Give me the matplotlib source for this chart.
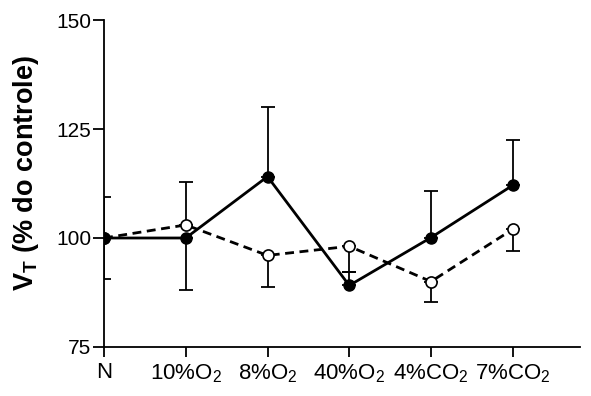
import matplotlib
matplotlib.use("Agg")
import matplotlib.pyplot as plt
import numpy as np

plt.rcParams['font.family'] = ['Liberation Sans', 'DejaVu Sans']
plt.rcParams['mathtext.fontset'] = 'custom'
plt.rcParams['mathtext.rm'] = 'Liberation Sans'
plt.rcParams['mathtext.it'] = 'Liberation Sans:italic'
plt.rcParams['mathtext.bf'] = 'Liberation Sans:bold'

categories = ["N", "10%O$_2$", "8%O$_2$", "40%O$_2$", "4%CO$_2$", "7%CO$_2$"]
filled_vals = [100, 100, 114.1, 89.1, 100.1, 112.1]
filled_err_up = [9.3, 0, 16.0, 3.0, 10.6, 10.3]
filled_err_dn = [9.3, 12.0, 0, 0, 0, 0]
open_vals = [100, 103, 96, 98.1, 90.0, 102.0]
open_err_up = [0, 9.8, 0, 0, 0, 0]
open_err_dn = [0, 0, 7.3, 6.0, 4.8, 4.9]
yticks = [75, 100, 125, 150]

fig = plt.figure(figsize=(5.91, 3.96), dpi=100)
ax = fig.add_axes([0.176, 0.124, 0.805, 0.825])
x = np.arange(len(categories))

ax.errorbar(x, open_vals, yerr=[open_err_dn, open_err_up], fmt='none',
            ecolor='black', elinewidth=1.3, capsize=5, capthick=1.3, zorder=2)
ax.errorbar(x, filled_vals, yerr=[filled_err_dn, filled_err_up], fmt='none',
            ecolor='black', elinewidth=1.3, capsize=5, capthick=1.3, zorder=2)
ax.plot(x, open_vals, linestyle=(0, (3.2, 2)), color='black', lw=2,
        marker='o', markersize=8, markerfacecolor='white',
        markeredgecolor='black', markeredgewidth=1.2, zorder=3)
ax.plot(x, filled_vals, linestyle='-', color='black', lw=2,
        marker='o', markersize=8, markerfacecolor='black',
        markeredgecolor='black', zorder=4)

ax.set_xlim(0, 5.82)
ax.set_ylim(75, 150)
ax.set_yticks(yticks)
ax.set_xticks(x)
ax.set_xticklabels(categories, fontsize=16)
ax.tick_params(axis='y', labelsize=15, length=8, width=1.3, direction='out', pad=1)
ax.tick_params(axis='x', length=7, width=1.3, direction='out', pad=4)
for s in ['top', 'right']:
    ax.spines[s].set_visible(False)
for s in ['left', 'bottom']:
    ax.spines[s].set_linewidth(1.3)
ax.set_ylabel("V$_\\mathbf{T}$ (% do controle)", fontsize=19.5, fontweight='bold')
ax.yaxis.set_label_coords(-0.133, 0.532)

fig.savefig("out.png", dpi=100)
